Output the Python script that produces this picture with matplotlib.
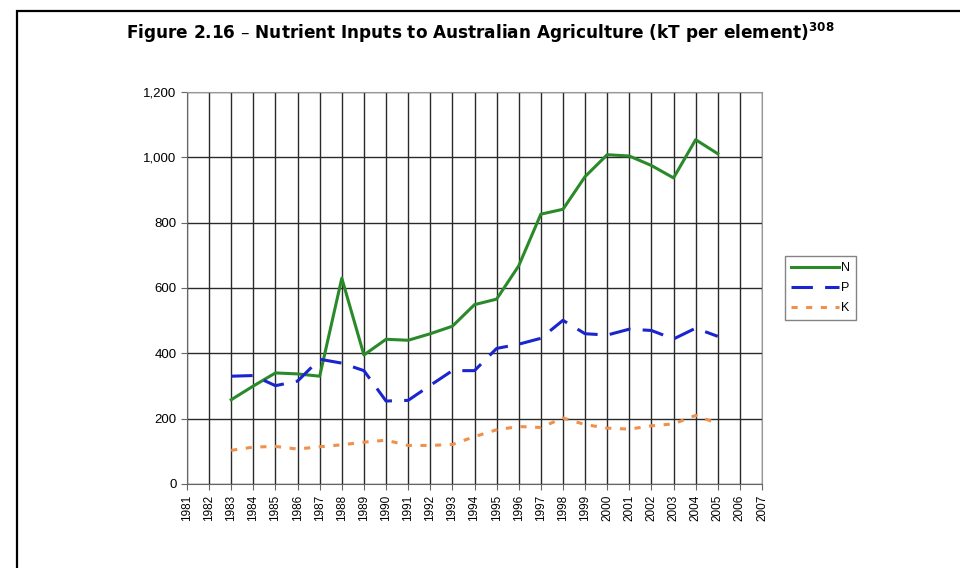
import matplotlib
matplotlib.use('Agg')
import matplotlib.pyplot as plt
from matplotlib.patches import Rectangle

# nutrient inputs, kT per element
years = list(range(1983, 2006))
n_vals = [258, 300, 340, 337, 330, 630, 395, 443, 440, 460, 483, 549, 566, 668, 826,
          841, 941, 1008, 1004, 975, 937, 1054, 1011]
p_vals = [330, 332, 301, 315, 382, 370, 347, 254, 256, 302, 347, 347, 415, 428, 446,
          501, 460, 456, 474, 470, 444, 477, 452]
k_vals = [103, 113, 115, 107, 114, 120, 128, 134, 118, 118, 121, 145, 166, 176, 173,
          202, 182, 171, 168, 178, 184, 210, 185]
x_ticks = list(range(1981, 2008))
y_ticks = [0, 200, 400, 600, 800, 1000, 1200]
y_labels = ['0', '200', '400', '600', '800', '1,000', '1,200']

fig = plt.figure(figsize=(9.6, 5.68), dpi=100)

# outer frame of the figure box
fig.patches.append(Rectangle((17 / 960, -0.1), 1.0, 1 - 11 / 568 + 0.1,
                             transform=fig.transFigure, fill=False,
                             edgecolor='black', linewidth=1.6))

fig.text(0.5, 1 - 33 / 568, 'Figure 2.16 \u2013 Nutrient Inputs to Australian Agriculture (kT per element)$^{\\mathbf{308}}$',
         ha='center', va='center', fontsize=12.2, fontweight='bold')

ax = fig.add_axes([187 / 960, 84 / 568, 575 / 960, 392 / 568])
ax.plot(years, n_vals, color='#2a8a2a', lw=2.2, label='N')
ax.plot(years, p_vals, color='#1a25d0', lw=2.2, dashes=(7, 4), label='P')
ax.plot(years, k_vals, color='#f0904a', lw=2.2, dashes=(2, 2.8), label='K')

ax.set_xlim(1981, 2007)
ax.set_ylim(0, 1200)
ax.set_xticks(x_ticks)
ax.set_xticklabels([str(y) for y in x_ticks], rotation=90, fontsize=8.5,
                   family='Liberation Sans')
ax.set_yticks(y_ticks)
ax.set_yticklabels(y_labels, fontsize=9.5, family='Liberation Sans')
ax.grid(True, color='#2a2a2a', lw=1.0)
ax.set_axisbelow(True)
ax.tick_params(direction='out', length=4, width=0.8, color='#666666')
for s in ['top', 'right']:
    ax.spines[s].set_color('#999999')
for s in ['left', 'bottom']:
    ax.spines[s].set_color('#666666')

leg = fig.legend(loc='center left', bbox_to_anchor=(785 / 960, 1 - 288 / 568),
                 prop={'family': 'Liberation Sans', 'size': 9},
                 frameon=True, fancybox=False, handlelength=3.9,
                 handletextpad=0.15, borderpad=0.45, labelspacing=0.65, borderaxespad=0)
leg.get_frame().set_edgecolor('#666666')
leg.get_frame().set_linewidth(1.0)

fig.savefig('out.png', dpi=100)
